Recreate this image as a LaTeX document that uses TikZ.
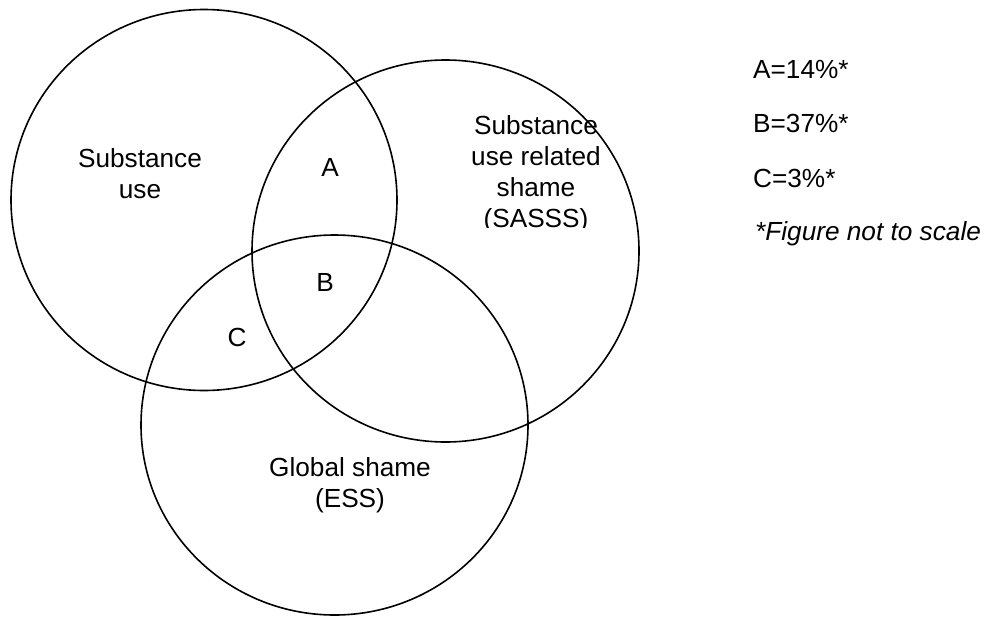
\documentclass[tikz,border=0pt]{standalone}
\usepackage{fontspec}
\setmainfont{Liberation Sans}
\usetikzlibrary{positioning}
\tikzset{
  venn/.style={line width=1.6pt},
  region/.style={font=\fontsize{26.2}{31}\selectfont, inner sep=0pt, align=center},
  legend/.style={font=\fontsize{26.2}{31}\selectfont, inner sep=0pt, anchor=base west}
}

\begin{document}
\begin{tikzpicture}[x=1pt, y=-1pt]

  \useasboundingbox (0,0) rectangle (985,616);

  \coordinate (use) at (204,200);
  \coordinate (sasss) at (445.5,251);
  \coordinate (ess) at (334.5,425);

  \draw [venn] (use) ellipse [x radius=193pt, y radius=190.5pt];
  \draw [venn] (sasss) ellipse [x radius=193.5pt, y radius=191pt];
  \draw [venn] (ess) ellipse [x radius=193.5pt, y radius=190pt];

  \node (uselbl) [region] at (140,174) {Substance\\use};
  \begin{scope}
    \clip (0,0) rectangle (985,227);
    \node (sassslbl) [region] at (536,174) {Substance\\use related\\shame\\(SASSS)};
  \end{scope}
  \node (esslbl) [region] at (350,485) {Global shame\\(ESS)};

  \node (a) [region] at (330,167) {A};
  \node (b) [region] at (325,282) {B};
  \node (c) [region] at (237,337) {C};

  \node (keya) [legend] at (753,78) {A=14\%*};
  \node (keyb) [legend] at (753,132) {B=37\%*};
  \node (keyc) [legend] at (753,187) {C=3\%*};
  \node (note) [legend] at (755,240) {\itshape *Figure not to scale};

\end{tikzpicture}
\end{document}
